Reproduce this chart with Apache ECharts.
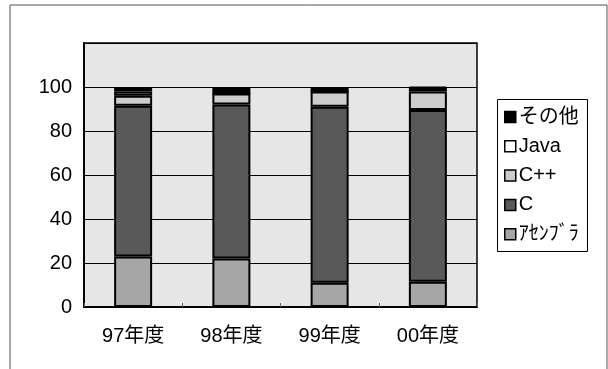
<!DOCTYPE html>
<html>
<head>
<meta charset="utf-8">
<script src="https://cdn.jsdelivr.net/npm/echarts@6/dist/echarts.min.js"></script>
<style>
  html, body { margin: 0; padding: 0; background: #fff; }
  #chart { width: 608px; height: 369px; }
</style>
</head>
<body>
<div id="chart"></div>
<script>
// Language share per fiscal year (percent, stacked to 100)
var categories = ['97年度', '98年度', '99年度', '00年度'];
var assembler = [23, 22, 11, 11.5];
var langC = [68.5, 70, 80, 78];
var langCpp = [4.5, 5, 7, 8.5];
var langJava = [2, 0, 0, 1.5];
var langOther = [2, 3, 2, 0.5];
var yTicks = [0, 20, 40, 60, 80, 100];

var FONT = '"Liberation Sans", Arial, "Noto Sans CJK JP", sans-serif';

var seriesDefs = [
  { name: 'ｱｾﾝﾌﾞﾗ', data: assembler, color: '#a6a6a6' },
  { name: 'C', data: langC, color: '#595959' },
  { name: 'C++', data: langCpp, color: '#cccccc' },
  { name: 'Java', data: langJava, color: '#ffffff' },
  { name: 'その他', data: langOther, color: '#000000' }
];

var chart = echarts.init(document.getElementById('chart'), null, { renderer: 'canvas' });

chart.setOption({
  animation: false,
  backgroundColor: '#ffffff',
  textStyle: { fontFamily: FONT },
  graphic: [
    {
      type: 'rect',
      shape: { x: 10, y: 5, width: 597, height: 420 },
      style: { fill: 'none', stroke: '#555', lineWidth: 1 },
      silent: true, z: -1
    },
    {
      type: 'rect',
      shape: { x: 497.5, y: 99.5, width: 90, height: 152 },
      style: { fill: '#fff', stroke: '#000', lineWidth: 1 },
      silent: true, z: 0
    }
  ],
  grid: {
    left: 84, top: 43, width: 393, height: 264,
    show: true, backgroundColor: '#e6e6e6',
    borderColor: '#000', borderWidth: 1.5
  },
  legend: {
    orient: 'vertical',
    left: 504, top: 107,
    padding: 0,
    itemWidth: 11, itemHeight: 11,
    itemGap: 9.3,
    icon: 'rect',
    data: ['その他', 'Java', 'C++', 'C', 'ｱｾﾝﾌﾞﾗ'],
    itemStyle: { borderColor: '#000', borderWidth: 1.5 },
    textStyle: { fontSize: 20, lineHeight: 20, color: '#000', fontFamily: FONT, padding: [0, 0, 0, -2] },
    z: 5
  },
  xAxis: {
    type: 'category',
    data: categories,
    axisLine: { lineStyle: { color: '#000', width: 2 } },
    axisTick: { show: true, inside: true, length: 4, lineStyle: { color: '#666', width: 1 } },
    axisLabel: { margin: 19, fontSize: 20, color: '#000', fontFamily: FONT },
    splitLine: { show: false }
  },
  yAxis: {
    type: 'value',
    min: 0, max: 120, interval: 20,
    axisLine: { show: true, lineStyle: { color: '#000', width: 2 } },
    axisTick: { show: false },
    axisLabel: {
      margin: 12, fontSize: 20, color: '#000', fontFamily: FONT,
      formatter: function (v) { return yTicks.indexOf(v) >= 0 ? String(v) : ''; }
    },
    splitLine: { show: true, lineStyle: { color: '#000', width: 1 } }
  },
  series: seriesDefs.map(function (s) {
    return {
      name: s.name,
      type: 'bar',
      stack: 'share',
      barWidth: 38,
      data: s.data,
      itemStyle: { color: s.color, borderColor: '#000', borderWidth: 2 },
      emphasis: { disabled: true }
    };
  })
});
</script>
</body>
</html>
